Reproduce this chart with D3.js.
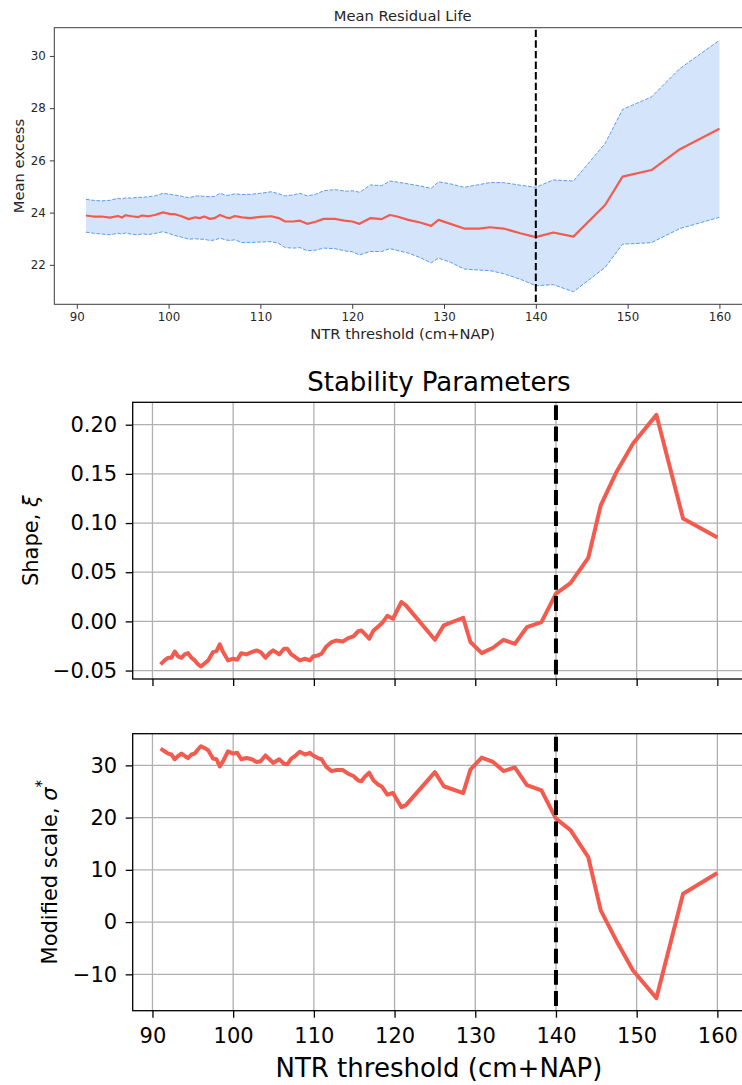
<!DOCTYPE html>
<html>
<head>
<meta charset="utf-8">
<script src="https://cdn.jsdelivr.net/npm/d3@7"></script>
<style>
  html, body { margin: 0; padding: 0; background: #fff; }
  svg { display: block; font-family: "DejaVu Sans", sans-serif; }
</style>
</head>
<body>
<svg id="chart" width="742" height="1085"></svg>
<script>
// ---------------- Data ----------------
const mrlThreshold = [91.0, 91.8, 92.7, 93.6, 94.5, 94.9, 95.3, 96.0, 96.7, 97.1, 97.8, 98.5, 99.4, 100.2, 100.7, 101.4, 102.2, 102.9, 103.4, 103.9, 104.5, 105.0, 105.6, 106.3, 106.7, 107.2, 108.0, 108.9, 110.0, 111.2, 112.0, 112.7, 113.6, 114.3, 115.1, 116.0, 116.9, 118.1, 119.4, 120.0, 120.8, 122.0, 123.2, 124.1, 124.9, 126.1, 127.4, 128.6, 129.4, 130.7, 132.2, 133.8, 135.0, 136.5, 138.3, 140.0, 141.9, 144.1, 147.55, 149.45, 152.6, 155.7, 160.0];
const mrlMean = [23.89, 23.85, 23.85, 23.81, 23.87, 23.81, 23.90, 23.86, 23.83, 23.89, 23.86, 23.91, 24.01, 23.94, 23.94, 23.86, 23.75, 23.82, 23.79, 23.85, 23.76, 23.79, 23.91, 23.81, 23.79, 23.87, 23.82, 23.79, 23.84, 23.86, 23.79, 23.66, 23.66, 23.69, 23.57, 23.65, 23.76, 23.76, 23.68, 23.66, 23.57, 23.79, 23.75, 23.91, 23.85, 23.72, 23.62, 23.49, 23.72, 23.57, 23.39, 23.39, 23.44, 23.39, 23.21, 23.06, 23.24, 23.08, 24.29, 25.38, 25.63, 26.43, 27.21];
const mrlUpper = [24.51, 24.47, 24.45, 24.47, 24.55, 24.52, 24.56, 24.56, 24.59, 24.58, 24.61, 24.64, 24.74, 24.70, 24.67, 24.63, 24.57, 24.63, 24.64, 24.62, 24.61, 24.62, 24.74, 24.66, 24.68, 24.72, 24.69, 24.70, 24.74, 24.80, 24.72, 24.64, 24.68, 24.74, 24.64, 24.70, 24.84, 24.88, 24.82, 24.84, 24.78, 25.06, 25.03, 25.21, 25.17, 25.10, 25.02, 24.93, 25.18, 25.10, 24.97, 25.07, 25.15, 25.15, 25.05, 24.97, 25.25, 25.21, 26.65, 27.95, 28.43, 29.52, 30.60];
const mrlLower = [23.25, 23.21, 23.18, 23.15, 23.21, 23.18, 23.22, 23.17, 23.15, 23.19, 23.16, 23.20, 23.27, 23.18, 23.12, 23.06, 22.98, 23.00, 22.98, 22.98, 22.93, 22.95, 23.02, 22.95, 22.93, 22.96, 22.85, 22.86, 22.87, 22.89, 22.82, 22.66, 22.64, 22.66, 22.54, 22.56, 22.64, 22.62, 22.52, 22.50, 22.38, 22.51, 22.51, 22.62, 22.55, 22.45, 22.28, 22.07, 22.26, 22.10, 21.84, 21.80, 21.78, 21.66, 21.45, 21.20, 21.24, 20.97, 21.90, 22.79, 22.85, 23.39, 23.82];

const stabThreshold = [91.0, 91.5, 91.94, 92.35, 92.76, 93.18, 93.59, 94.0, 94.4, 94.83, 95.24, 95.66, 95.99, 96.48, 96.9, 97.5, 97.93, 98.34, 98.75, 99.37, 99.99, 100.5, 101.0, 101.65, 102.3, 102.9, 103.4, 104.0, 104.5, 104.95, 105.7, 106.3, 106.7, 107.2, 107.6, 108.25, 108.9, 109.5, 109.9, 110.5, 110.95, 111.55, 112.2, 112.8, 113.6, 114.25, 114.9, 115.5, 115.9, 116.3, 116.85, 117.4, 118.0, 118.45, 119.1, 119.8, 120.85, 121.4, 125.0, 126.1, 128.5, 129.4, 130.8, 132.2, 133.5, 134.9, 136.4, 138.2, 140.0, 141.8, 144.0, 145.55, 147.5, 149.55, 152.45, 155.75, 160.0];
const shapeXi = [-0.0438, -0.0397, -0.037, -0.037, -0.0306, -0.0357, -0.037, -0.0336, -0.0323, -0.037,
  -0.0397, -0.0438, -0.0458, -0.0425, -0.0397, -0.0312, -0.0302, -0.0234, -0.0312, -0.0397,
  -0.038, -0.039, -0.0323, -0.0336, -0.0312, -0.0295, -0.0312, -0.037, -0.0323, -0.0295,
  -0.0336, -0.0278, -0.0278, -0.0336, -0.0357, -0.0397, -0.038, -0.0397, -0.0357, -0.0346,
  -0.0329, -0.0255, -0.021, -0.0194, -0.0204, -0.017, -0.0153, -0.0099, -0.0092, -0.0126,
  -0.0177, -0.0092, -0.0051, -0.0017, 0.0056, 0.0027, 0.0197, 0.0163, -0.0187, -0.0041,
  0.0037, -0.021, -0.0323, -0.0268, -0.0187, -0.0228, -0.0058, -0.0007, 0.0282, 0.039,
  0.0645, 0.118, 0.152, 0.181, 0.21, 0.1046, 0.0853];
const modScale = [33.2, 32.7, 32.25, 32.07, 31.17, 31.8, 32.25, 31.8, 31.4, 32.07,
  32.25, 33.08, 33.65, 33.3, 32.9, 31.3, 31.17, 29.8, 30.8, 32.7,
  32.25, 32.4, 31.17, 31.4, 31.17, 30.65, 30.8, 31.9, 31.17, 30.46,
  31.17, 30.3, 30.2, 31.3, 31.7, 32.6, 32.07, 32.4, 31.9, 31.4,
  31.17, 29.7, 28.9, 29.1, 29.1, 28.4, 27.97, 27.1, 26.96, 27.8,
  28.6, 27.1, 26.3, 25.9, 24.4, 24.7, 22.0, 22.4, 28.7, 26.0,
  24.7, 29.2, 31.5, 30.65, 28.9, 29.6, 26.2, 25.2, 19.8, 17.6,
  12.45, 2.24, -3.6, -9.25, -14.55, 5.44, 9.4];

const chosenThreshold = 140;
const xTicks = [90, 100, 110, 120, 130, 140, 150, 160];
const mrlYTicks = [22, 24, 26, 28, 30];
const shapeYTicks = [-0.05, 0.00, 0.05, 0.10, 0.15, 0.20];
const scaleYTicks = [-10, 0, 10, 20, 30];

// ---------------- Helpers ----------------
const svg = d3.select("#chart");
const RED = "#f25b4e";
const minus = s => s.replace(/-/g, "\u2212");

function padded(minV, maxV) {
  const p = (maxV - minV) * 0.05;
  return [minV - p, maxV + p];
}
const xDomain = padded(d3.min(stabThreshold), d3.max(stabThreshold));

// ---------------- Top panel: Mean Residual Life ----------------
(function () {
  const L = 54.3, T = 27.7, B = 304.3, R = 751.1;
  const x = d3.scaleLinear().domain(padded(d3.min(mrlThreshold), d3.max(mrlThreshold))).range([L, R]);
  const y = d3.scaleLinear().domain(padded(d3.min(mrlLower), d3.max(mrlUpper))).range([B, T]);
  const g = svg.append("g");
  const txt = "#262626", spine = "#3c3c3c";
  const idx = d3.range(mrlThreshold.length);

  g.append("path")
    .attr("d", d3.area().x(i => x(mrlThreshold[i])).y0(i => y(mrlLower[i])).y1(i => y(mrlUpper[i]))(idx))
    .attr("fill", "#d3e4fb");
  [mrlUpper, mrlLower].forEach(arr => {
    g.append("path")
      .attr("d", d3.line().x(i => x(mrlThreshold[i])).y(i => y(arr[i]))(idx))
      .attr("fill", "none").attr("stroke", "#5b9cf0").attr("stroke-width", 1)
      .attr("stroke-dasharray", "3.7,1.6");
  });
  g.append("path")
    .attr("d", d3.line().x(i => x(mrlThreshold[i])).y(i => y(mrlMean[i]))(idx))
    .attr("fill", "none").attr("stroke", RED).attr("stroke-width", 2.2)
    .attr("stroke-linejoin", "round");
  g.append("line")
    .attr("x1", x(chosenThreshold)).attr("x2", x(chosenThreshold))
    .attr("y1", T + 2).attr("y2", B)
    .attr("stroke", "#000").attr("stroke-width", 2).attr("stroke-dasharray", "7.4,3.2");

  // frame
  g.append("rect").attr("x", L).attr("y", T).attr("width", R - L).attr("height", B - T)
    .attr("fill", "none").attr("stroke", spine).attr("stroke-width", 1);

  const xa = g.append("g").attr("transform", `translate(0,${B})`)
    .call(d3.axisBottom(x).tickValues(xTicks).tickSize(4.5).tickSizeOuter(0).tickPadding(4));
  const ya = g.append("g").attr("transform", `translate(${L},0)`)
    .call(d3.axisLeft(y).tickValues(mrlYTicks).tickSize(4.5).tickSizeOuter(0).tickPadding(4));
  [xa, ya].forEach(a => {
    a.select(".domain").remove();
    a.selectAll("line").attr("stroke", spine);
    a.selectAll("text").attr("fill", txt).style("font-size", "11.8px").style("font-family", "DejaVu Sans");
  });

  g.append("text").attr("x", (L + R) / 2).attr("y", 20.5).attr("text-anchor", "middle")
    .attr("fill", txt).style("font-size", "14.7px").text("Mean Residual Life");
  g.append("text").attr("x", (L + R) / 2).attr("y", 339).attr("text-anchor", "middle")
    .attr("fill", txt).style("font-size", "14.7px").text("NTR threshold (cm+NAP)");
  g.append("text").attr("transform", `translate(23.5,${(T + B) / 2}) rotate(-90)`)
    .attr("text-anchor", "middle").attr("fill", txt).style("font-size", "14.7px").text("Mean excess");
})();

// ---------------- Stability panels ----------------
function stabilityPanel(T, B, values, yTicks, fmt, showXLabels) {
  const L = 132.7, R = 745.2;
  const x = d3.scaleLinear().domain(xDomain).range([L, R]);
  const y = d3.scaleLinear().domain(padded(d3.min(values), d3.max(values))).range([B, T]);
  const g = svg.append("g");

  // grid
  g.append("g").selectAll("line").data(xTicks).join("line")
    .attr("x1", d => x(d)).attr("x2", d => x(d)).attr("y1", T).attr("y2", B)
    .attr("stroke", "#b0b0b0").attr("stroke-width", 1.3);
  g.append("g").selectAll("line").data(yTicks).join("line")
    .attr("x1", L).attr("x2", R).attr("y1", d => y(d)).attr("y2", d => y(d))
    .attr("stroke", "#b0b0b0").attr("stroke-width", 1.3);

  const idx = d3.range(stabThreshold.length);
  g.append("path")
    .attr("d", d3.line().x(i => x(stabThreshold[i])).y(i => y(values[i]))(idx))
    .attr("fill", "none").attr("stroke", RED).attr("stroke-width", 4)
    .attr("stroke-linejoin", "round").attr("stroke-linecap", "butt");
  g.append("line")
    .attr("x1", x(chosenThreshold)).attr("x2", x(chosenThreshold))
    .attr("y1", T + 3).attr("y2", B)
    .attr("stroke", "#000").attr("stroke-width", 4).attr("stroke-dasharray", "14.8,6.4");

  g.append("rect").attr("x", L).attr("y", T).attr("width", R - L).attr("height", B - T)
    .attr("fill", "none").attr("stroke", "#000").attr("stroke-width", 1.3);

  const xa = g.append("g").attr("transform", `translate(0,${B})`)
    .call(d3.axisBottom(x).tickValues(xTicks).tickSize(7).tickSizeOuter(0).tickPadding(10)
      .tickFormat(showXLabels ? d3.format("d") : () => ""));
  const ya = g.append("g").attr("transform", `translate(${L},0)`)
    .call(d3.axisLeft(y).tickValues(yTicks).tickSize(7).tickSizeOuter(0).tickPadding(8.5)
      .tickFormat(d => minus(fmt(d))));
  [xa, ya].forEach(a => {
    a.select(".domain").remove();
    a.selectAll("line").attr("stroke", "#000").attr("stroke-width", 1.3);
    a.selectAll("text").attr("fill", "#000").style("font-size", "21px").style("font-family", "DejaVu Sans");
  });
  return { L, R, T, B };
}

const p1 = stabilityPanel(402.3, 679, shapeXi, shapeYTicks, d3.format(".2f"), false);
const p2 = stabilityPanel(733.7, 1010.7, modScale, scaleYTicks, d3.format("d"), true);

svg.append("text").attr("x", (p1.L + p1.R) / 2).attr("y", 390.5).attr("text-anchor", "middle")
  .attr("fill", "#000").style("font-size", "26px").text("Stability Parameters");

const shapeLabel = svg.append("text").attr("transform", `translate(38,${(p1.T + p1.B) / 2}) rotate(-90)`)
  .attr("text-anchor", "middle").attr("fill", "#000").style("font-size", "21px");
shapeLabel.append("tspan").text("Shape, ");
shapeLabel.append("tspan").style("font-style", "italic").text("ξ");

const scaleLabel = svg.append("text").attr("transform", `translate(57,${(p2.T + p2.B) / 2}) rotate(-90)`)
  .attr("text-anchor", "middle").attr("fill", "#000").style("font-size", "21px");
scaleLabel.append("tspan").text("Modified scale, ");
scaleLabel.append("tspan").style("font-style", "italic").text("σ");
scaleLabel.append("tspan").attr("dy", -10).style("font-size", "15px").text("*");

svg.append("text").attr("x", (p2.L + p2.R) / 2).attr("y", 1077).attr("text-anchor", "middle")
  .attr("fill", "#000").style("font-size", "26px").text("NTR threshold (cm+NAP)");
</script>
</body>
</html>
